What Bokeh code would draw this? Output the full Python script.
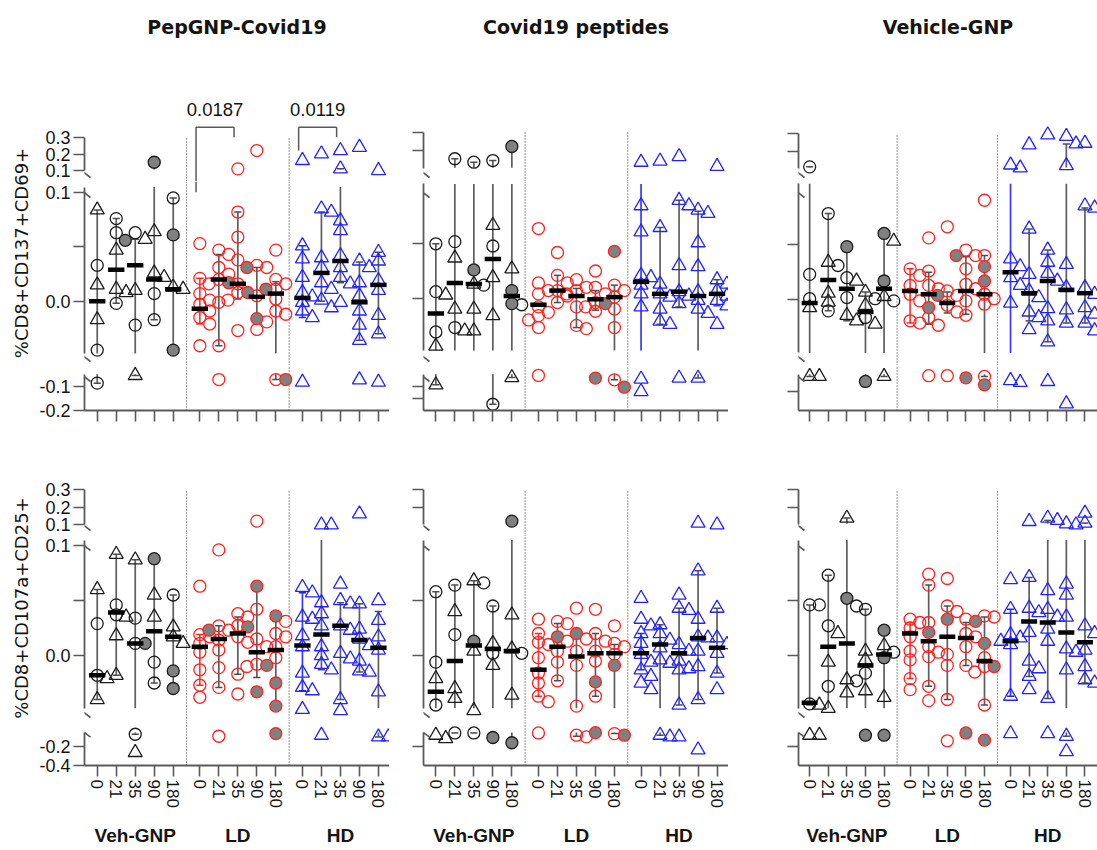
import math
from bokeh.plotting import figure
from bokeh.layouts import row, column
from bokeh.models import (Range1d, LinearAxis, FixedTicker, NumeralTickFormatter,
                          Arrow, Grid)
from bokeh.core.properties import value
from bokeh.embed import file_html
from bokeh.resources import INLINE

# ----------------------------------------------------------------- data ----
GROUPS = ["Veh-GNP", "LD", "HD"]
DAYS = ["0", "21", "35", "90", "180"]
PANEL_TITLES = ["PepGNP-Covid19", "Covid19 peptides", "Vehicle-GNP"]
ROW_YLABELS = ["%CD8+CD137+CD69+", "%CD8+CD107a+CD25+"]
PVAL_TEXT = ["0.0187", "0.0119"]
PVAL_GROUP = [1, 2]          # LD, HD
PVAL_FROM_DAY = [0, 0]       # day index 0
PVAL_TO_DAY = [2, 2]         # day index 35

# --- PepGNP-Covid19, %CD8+CD137+CD69+
PEP137_VEH_CIRC = [[0.033, -0.045, -0.086], [0.076, 0.063, -0.002], [0.063, -0.022], [0.007, -0.017], [0.095]]
PEP137_VEH_TRI = [[0.084, 0.015, -0.017], [0.047, 0.011, 0.008], [0.057, 0.010, -0.054], [0.064, 0.026, 0.022], [0.013, 0.011]]
PEP137_VEH_FILL = [[], [], [0.056], [0.150], [0.061, -0.045]]
PEP137_LD_OPEN = [[0.053, 0.021, 0.007, 0.001, -0.003, -0.009, -0.015, -0.021, -0.041],
                  [0.047, 0.043, 0.031, 0.025, 0.020, 0.016, -0.001, -0.041, -0.071],
                  [0.110, 0.082, 0.059, 0.038, 0.016, 0.008, 0.001, -0.027],
                  [0.221, 0.033, 0.031, 0.005, -0.019, -0.026],
                  [0.047, 0.020, 0.016, 0.011, 0.002, -0.009, -0.012, -0.071]]
PEP137_LD_FILL = [[], [0.017], [0.008], [0.031, -0.016], [0.011, -0.071]]
PEP137_HD_OPEN = [[0.161, 0.051, 0.039, 0.022, 0.008, 0.004, -0.001, -0.009, -0.015, -0.082],
                  [0.201, 0.085, 0.082, 0.040, 0.031, 0.017, 0.011, 0.001, -0.006],
                  [0.221, 0.110, 0.074, 0.065, 0.042, 0.031, 0.022, 0.016, -0.001],
                  [0.241, 0.037, 0.031, 0.017, 0.005, -0.009, -0.022, -0.036, -0.072],
                  [0.100, 0.045, 0.037, 0.019, 0.010, -0.013, -0.030, -0.082]]
PEP137_MEDIAN = [0.0, 0.029, 0.033, 0.020, 0.011, -0.007, 0.020, 0.016, 0.004, 0.007, 0.003, 0.026, 0.037, -0.001, 0.015]
PEP137_LO = [-0.086, -0.002, -0.054, -0.017, -0.045, -0.021, -0.041, 0.002, -0.019, -0.071, -0.015, 0.000, 0.017, -0.036, -0.030]
PEP137_HI = [0.084, 0.076, 0.057, 0.150, 0.095, 0.021, 0.043, 0.082, 0.031, 0.018, 0.051, 0.082, 0.110, 0.036, 0.045]

# --- Covid19 peptides, %CD8+CD137+CD69+
PEPT137_VEH_CIRC = [[0.050, 0.006, -0.031], [0.155, 0.052, -0.027], [0.136, 0.012], [0.145, 0.048, -0.174], [-0.006]]
PEPT137_VEH_TRI = [[0.003, -0.044, -0.093], [0.037, -0.010, -0.030], [0.013, -0.010, -0.030], [0.067, 0.019, -0.016], [0.027, -0.063]]
PEPT137_VEH_FILL = [[], [], [0.026], [], [0.222, 0.007, -0.005]]
PEPT137_LD_OPEN = [[0.064, 0.014, 0.007, 0.004, -0.008, -0.013, -0.016, -0.020, -0.027, -0.054],
                   [0.042, 0.021, 0.014, 0.007, 0.002, -0.004],
                   [0.017, 0.010, 0.007, 0.004, -0.008, -0.025, -0.028],
                   [0.025, 0.010, 0.004, -0.004, -0.008, -0.012],
                   [0.012, 0.007, 0.001, -0.010, -0.027, -0.072]]
PEPT137_LD_FILL = [[], [], [], [-0.005, -0.065], [0.043, -0.103]]
PEPT137_HD_OPEN = [[0.136, 0.085, 0.061, 0.021, 0.019, 0.012, 0.004, -0.008, -0.069, -0.121],
                   [0.142, 0.065, 0.013, 0.004, 0.001, -0.010, -0.021, -0.024],
                   [0.167, 0.090, 0.085, 0.030, 0.006, 0.002, -0.005, -0.065],
                   [0.081, 0.078, 0.051, 0.029, 0.006, -0.002, -0.010, -0.014, -0.065],
                   [0.113, 0.017, 0.013, 0.007, 0.002, -0.002, -0.007, -0.024]]
PEPT137_MEDIAN = [-0.014, 0.014, 0.013, 0.036, 0.002, -0.006, 0.007, 0.002, -0.001, 0.001, 0.015, 0.004, 0.006, 0.002, 0.004]
PEPT137_LO = [-0.093, -0.048, -0.048, -0.174, -0.063, -0.006, -0.004, -0.027, -0.011, -0.072, -0.048, -0.024, -0.008, -0.065, -0.007]
PEPT137_HI = [0.050, 0.155, 0.136, 0.145, 0.222, -0.006, 0.021, 0.009, 0.007, 0.012, 0.105, 0.065, 0.090, 0.080, 0.017]

# --- Vehicle-GNP, %CD8+CD137+CD69+
VEH137_VEH_CIRC = [[0.110, 0.023, 0.001], [0.078, 0.031, -0.010], [0.020, 0.002], [0.001, -0.016], [-0.001]]
VEH137_VEH_TRI = [[-0.007, -0.058, -0.058], [0.034, 0.006, -0.002], [0.017, -0.014, -0.019], [0.007, -0.005, -0.022], [0.053, 0.003, -0.058]]
VEH137_VEH_FILL = [[], [], [0.048], [-0.079], [0.060, 0.017]]
VEH137_LD_OPEN = [[0.028, 0.022, 0.013, 0.005, -0.001, -0.019, -0.021],
                  [0.056, 0.026, 0.013, 0.010, -0.016, -0.023, -0.055],
                  [0.066, 0.008, 0.004, -0.005, -0.011, -0.055],
                  [0.045, 0.040, 0.028, 0.014, 0.010, -0.001, -0.014],
                  [0.090, 0.040, 0.005, 0.001, -0.004, -0.058]]
VEH137_LD_FILL = [[], [-0.007], [0.004], [0.040, -0.064], [0.030, 0.017, -0.093]]
VEH137_HD_OPEN = [[0.121, 0.104, 0.037, 0.030, 0.020, 0.013, -0.003, -0.075, -0.083],
                  [0.237, 0.064, 0.023, 0.008, 0.002, -0.011, -0.016, -0.027],
                  [0.294, 0.045, 0.034, 0.024, 0.017, -0.008, -0.019, -0.038, -0.079],
                  [0.285, 0.242, 0.117, 0.032, 0.011, -0.009, -0.021, -0.172],
                  [0.246, 0.085, 0.083, 0.011, 0.005, -0.007, -0.013, -0.021, -0.028]]
VEH137_MEDIAN = [-0.003, 0.018, 0.010, -0.011, 0.010, 0.008, 0.005, -0.003, 0.008, 0.005, 0.025, 0.006, 0.017, 0.009, 0.006]
VEH137_LO = [-0.058, -0.010, -0.019, -0.079, -0.058, -0.021, -0.022, -0.012, -0.013, -0.058, -0.048, -0.019, -0.038, -0.021, -0.021]
VEH137_HI = [0.110, 0.078, 0.048, 0.007, 0.060, 0.028, 0.025, 0.007, 0.039, 0.040, 0.105, 0.064, 0.045, 0.242, 0.083]

# --- PepGNP-Covid19, %CD8+CD107a+CD25+
PEP107_VEH_CIRC = [[0.029, -0.018], [0.046, 0.037], [0.034, 0.011, -0.069], [-0.006, -0.025], [0.055]]
PEP107_VEH_TRI = [[0.060, -0.021, -0.040], [0.092, 0.035, 0.018, -0.018], [0.087, -0.262], [0.055, 0.035], [0.026, 0.017, 0.011]]
PEP107_VEH_FILL = [[], [], [0.011], [0.088], [-0.014, -0.030]]
PEP107_LD_OPEN = [[0.063, 0.019, 0.017, 0.011, 0.003, -0.013, -0.027, -0.038],
                  [0.096, 0.027, 0.023, 0.014, 0.005, -0.011, -0.029, -0.090],
                  [0.038, 0.035, 0.027, 0.017, 0.012, -0.017, -0.035],
                  [0.121, 0.042, 0.015, 0.008, -0.008, -0.010],
                  [0.031, 0.020, 0.017, 0.008, -0.002]]
PEP107_LD_FILL = [[], [0.023], [0.026], [0.063, -0.009, -0.033], [0.036, -0.025, -0.046, -0.062]]
PEP107_HD_OPEN = [[0.062, 0.057, 0.035, 0.033, 0.018, 0.008, -0.016, -0.029, -0.032, -0.049],
                  [0.100, 0.100, 0.048, 0.038, 0.027, 0.008, 0.000, -0.008, -0.013, -0.079],
                  [0.065, 0.050, 0.047, 0.027, 0.023, 0.002, -0.003, -0.040, -0.050],
                  [0.162, 0.047, 0.024, 0.015, 0.009, -0.005, -0.014, -0.015],
                  [0.050, 0.032, 0.017, 0.005, -0.033, -0.097, -0.097]]
PEP107_MEDIAN = [-0.018, 0.039, 0.011, 0.022, 0.017, 0.008, 0.015, 0.020, 0.003, 0.005, 0.009, 0.019, 0.027, 0.014, 0.007]
PEP107_LO = [-0.040, -0.018, -0.069, -0.025, -0.030, -0.027, -0.029, -0.017, -0.020, -0.062, -0.032, -0.013, -0.040, -0.015, -0.097]
PEP107_HI = [0.060, 0.092, 0.087, 0.088, 0.055, 0.019, 0.027, 0.035, 0.063, 0.031, 0.057, 0.105, 0.048, 0.047, 0.040]

# --- Covid19 peptides, %CD8+CD107a+CD25+
PEPT107_VEH_CIRC = [[0.058, -0.006, -0.045], [0.064, 0.019, -0.055], [0.066, -0.055], [0.045, 0.002], [0.002]]
PEPT107_VEH_TRI = [[-0.021, -0.079, -0.114], [0.040, -0.030, -0.039], [0.068, 0.004, -0.050], [0.011, -0.009], [0.037, 0.006, -0.036]]
PEPT107_VEH_FILL = [[], [], [0.013], [-0.103], [0.121, -0.159]]
PEPT107_LD_OPEN = [[0.033, 0.020, 0.012, 0.010, -0.002, -0.016, -0.025, -0.037, -0.042, -0.055],
                   [0.031, 0.029, 0.013, 0.004, -0.006, -0.023],
                   [0.043, 0.015, 0.004, -0.009, -0.046, -0.079, -0.097],
                   [0.042, 0.020, 0.013, 0.004, -0.005, -0.037],
                   [0.027, 0.011, 0.008, 0.001, -0.062]]
PEPT107_LD_FILL = [[], [0.017], [0.020], [-0.024, -0.052], [-0.009, -0.079]]
PEPT107_HD_OPEN = [[0.052, 0.033, 0.027, 0.020, 0.011, 0.001, -0.006, -0.013, -0.019, -0.025, -0.031],
                   [0.028, 0.020, 0.014, 0.007, -0.004, -0.007, -0.079, -0.097],
                   [0.055, 0.043, 0.041, 0.010, 0.004, -0.005, -0.012, -0.013, -0.045, -0.097],
                   [0.110, 0.077, 0.033, 0.017, 0.016, 0.004, -0.010, -0.040, -0.234],
                   [0.100, 0.043, 0.016, 0.010, 0.002, -0.016, -0.031]]
PEPT107_MEDIAN = [-0.033, -0.005, 0.009, 0.006, 0.004, -0.013, 0.008, -0.001, 0.002, 0.002, 0.002, 0.010, 0.002, 0.016, 0.007]
PEPT107_LO = [-0.048, -0.055, -0.055, -0.048, -0.159, -0.037, -0.023, -0.090, -0.037, -0.062, -0.013, -0.079, -0.045, -0.040, -0.016]
PEPT107_HI = [0.058, 0.064, 0.068, 0.045, 0.105, 0.020, 0.029, 0.020, 0.020, 0.010, 0.020, 0.028, 0.043, 0.077, 0.043]

# --- Vehicle-GNP, %CD8+CD107a+CD25+
VEH107_VEH_CIRC = [[0.046, 0.046, -0.044], [0.073, 0.027, -0.028], [0.045, -0.023], [0.042, -0.016], [0.003]]
VEH107_VEH_TRI = [[-0.045, -0.079, -0.079], [0.020, -0.006, -0.048], [0.138, -0.022, -0.034], [0.004, -0.004, -0.032], [0.009, -0.038]]
VEH107_VEH_FILL = [[], [], [0.052], [-0.079], [0.023, -0.002, -0.079]]
VEH107_LD_OPEN = [[0.033, 0.030, 0.025, 0.017, 0.004, -0.004, -0.021, -0.031],
                  [0.074, 0.064, 0.030, 0.008, 0.003, -0.001, -0.028, -0.041],
                  [0.070, 0.045, 0.040, 0.001, -0.009, -0.040, -0.138],
                  [0.033, 0.020, 0.017, 0.008, -0.009],
                  [0.036, 0.035, -0.002, -0.010, -0.015, -0.045]]
VEH107_LD_FILL = [[], [0.021], [0.033], [0.031, -0.055], [0.011, -0.010, -0.131]]
VEH107_HD_OPEN = [[0.069, 0.042, 0.019, 0.016, 0.013, 0.010, -0.037, -0.062],
                  [0.119, 0.071, 0.043, 0.039, 0.021, -0.005, -0.012, -0.019, -0.031],
                  [0.138, 0.125, 0.059, 0.042, 0.035, 0.024, 0.013, -0.039, -0.062],
                  [0.106, 0.100, 0.065, 0.055, 0.035, 0.006, 0.003, -0.013, -0.090, -0.252],
                  [0.166, 0.110, 0.027, 0.020, 0.005, -0.010, -0.022, -0.025]]
VEH107_MEDIAN = [-0.043, 0.008, 0.011, -0.009, 0.001, 0.020, 0.013, 0.017, 0.016, -0.005, 0.013, 0.031, 0.030, 0.021, 0.012]
VEH107_LO = [-0.045, -0.048, -0.048, -0.079, -0.079, -0.021, -0.028, -0.040, -0.009, -0.045, -0.037, -0.019, -0.039, -0.090, -0.025]
VEH107_HI = [0.046, 0.073, 0.138, 0.042, 0.023, 0.030, 0.064, 0.045, 0.030, 0.035, 0.042, 0.071, 0.125, 0.105, 0.110]

PANEL_DATA = {
    (0, 0): (PEP137_VEH_CIRC, PEP137_VEH_TRI, PEP137_VEH_FILL, PEP137_LD_OPEN, PEP137_LD_FILL, PEP137_HD_OPEN, PEP137_MEDIAN, PEP137_LO, PEP137_HI),
    (0, 1): (PEPT137_VEH_CIRC, PEPT137_VEH_TRI, PEPT137_VEH_FILL, PEPT137_LD_OPEN, PEPT137_LD_FILL, PEPT137_HD_OPEN, PEPT137_MEDIAN, PEPT137_LO, PEPT137_HI),
    (0, 2): (VEH137_VEH_CIRC, VEH137_VEH_TRI, VEH137_VEH_FILL, VEH137_LD_OPEN, VEH137_LD_FILL, VEH137_HD_OPEN, VEH137_MEDIAN, VEH137_LO, VEH137_HI),
    (1, 0): (PEP107_VEH_CIRC, PEP107_VEH_TRI, PEP107_VEH_FILL, PEP107_LD_OPEN, PEP107_LD_FILL, PEP107_HD_OPEN, PEP107_MEDIAN, PEP107_LO, PEP107_HI),
    (1, 1): (PEPT107_VEH_CIRC, PEPT107_VEH_TRI, PEPT107_VEH_FILL, PEPT107_LD_OPEN, PEPT107_LD_FILL, PEPT107_HD_OPEN, PEPT107_MEDIAN, PEPT107_LO, PEPT107_HI),
    (1, 2): (VEH107_VEH_CIRC, VEH107_VEH_TRI, VEH107_VEH_FILL, VEH107_LD_OPEN, VEH107_LD_FILL, VEH107_HD_OPEN, VEH107_MEDIAN, VEH107_LO, VEH107_HI),
}

# --------------------------------------------------------------- styles ----
VEH_COLOR = "#1c1c1c"
LD_COLOR = "#ff2222"
HD_COLOR = "#2222ff"
FILL_GRAY = "#808080"
ERR_COLOR = "#4d4d4d"
AXIS_COLOR = "#5a5a5a"
TEXT_COLOR = "#141414"
SEP_COLOR = "#555555"

STYLES = {
    "veh_o": dict(marker="circle", line_color=VEH_COLOR, fill_color=None, size=12),
    "veh_t": dict(marker="triangle", line_color=VEH_COLOR, fill_color=None, size=14),
    "veh_f": dict(marker="circle", line_color=VEH_COLOR, fill_color=FILL_GRAY, size=12),
    "ld_o": dict(marker="circle", line_color=LD_COLOR, fill_color=None, size=12),
    "ld_f": dict(marker="circle", line_color=LD_COLOR, fill_color=FILL_GRAY, size=12),
    "hd_t": dict(marker="triangle", line_color=HD_COLOR, fill_color=None, size=14),
}

# --------------------------------------------------------------- layout ----
CAT_STEP = 10
GROUP_STEP = 54
DODGE = 2.6
CAP_HALF = 1.9
MED_HALF = 4.3

LABEL_W = 34
PANEL_LEFT = [50, 34, 70]
PANEL_FRAME_W = [305, 305, 299]
PANEL_X_START = [-6.7, -6.5, -6.0]
PANEL_PX_PER_X = [1.9, 1.9, 1.86]
# (row top, split top/mid, split mid/bottom, x-axis, bottom of tick-label area, row bottom)
ROW_GEOM = [(0, 181, 365, 410, 440, 440), (440, 534, 721, 766, 810, 850)]
YLABEL_CENTER = [252.5, 607.5]
YLABEL_MID_X = 20.5
TITLE_BASE_Y = 26.7
GROUP_LABEL_MID_Y = 834.5
BRACKET_TOP_Y = 126.7
BRACKET_TEXT_Y = 109.3
BRACKET_LEFT_END_Y = [191.7, 150.0]
BRACKET_RIGHT_END_Y = [136.7, 136.7]
BRACKET_SHIFT = -2.0

ROW2_ANCH = {"top": (489, 0.3, 524.3, 0.1), "mid": (545, 0.1, 655, 0.0), "bot": (746.7, -0.2, 766, -0.4)}
ANCHORS = {
    (0, 0): {"top": (137, 0.3, 170, 0.1), "mid": (192, 0.1, 300.7, 0.0), "bot": (386, -0.1, 410, -0.2)},
    (0, 1): {"top": (131.7, 0.3, 150, 0.2), "mid": (243.3, 0.05, 297.7, 0.0), "bot": (386, -0.1, 410, -0.2)},
    (0, 2): {"top": (133.3, 0.3, 150.7, 0.2), "mid": (244, 0.05, 299.3, 0.0), "bot": (386, -0.1, 410, -0.2)},
    (1, 0): ROW2_ANCH, (1, 1): ROW2_ANCH, (1, 2): ROW2_ANCH,
}
Y_TICKS = {
    (0, 0): {"top": ([0.1, 0.2, 0.3], []), "mid": ([0.0, 0.1], [0.05]), "bot": ([-0.1, -0.2], [])},
    (0, 1): {"top": ([0.2, 0.3], []), "mid": ([0.0, 0.05], []), "bot": ([-0.1, -0.15], [])},
    (0, 2): {"top": ([0.2, 0.3], []), "mid": ([0.0, 0.05], []), "bot": ([-0.12], [])},
    (1, 0): {"top": ([0.1, 0.2, 0.3], []), "mid": ([0.0, 0.1], [0.05]), "bot": ([-0.2, -0.4], [])},
    (1, 1): {"top": ([0.2, 0.3], []), "mid": ([0.0, 0.05], []), "bot": ([-0.2], [])},
    (1, 2): {"top": ([0.2, 0.3], []), "mid": ([0.0, 0.05], []), "bot": ([-0.2], [])},
}
SEG_CLIP = {"top": (0.106, 9.0), "mid": (-0.048, 0.105), "bot": (-9.0, -0.049)}
SEGS = ("top", "mid", "bot")


def val_at(a, y):
    y1, v1, y2, v2 = a
    return v1 + (y - y1) * (v2 - v1) / (y2 - y1)


def px_per_val(a):
    y1, v1, y2, v2 = a
    return abs((y2 - y1) / (v2 - v1))


def seg_of(v):
    if v >= 0.0995:
        return "top"
    if v < -0.051:
        return "bot"
    return "mid"


def xpos(g, i):
    return g * GROUP_STEP + i * CAT_STEP


def dodge(pts, scale, pxx):
    out, placed = [], []
    for v, st in sorted(pts, key=lambda t: -t[0]):
        yp = v * scale
        chosen = 0
        for k in (0, 1, -1, 2, -2, 3, -3):
            dxp = k * DODGE * pxx
            if all(abs(dxp - qx) >= 8 or abs(yp - qy) >= 8 for qx, qy in placed):
                chosen = k
                break
        placed.append((chosen * DODGE * pxx, yp))
        out.append((chosen * DODGE, v, st))
    return out


def base_fig(w, h, xr, yr, left, bottom):
    p = figure(width=w, height=h, x_range=xr, y_range=yr, output_backend="svg",
               toolbar_location=None, x_axis_location=None, y_axis_location=None,
               title_location=None, min_border_left=left, min_border_right=0,
               min_border_top=0, min_border_bottom=bottom, outline_line_color=None,
               background_fill_color="white", border_fill_color="white")
    p.center = [m for m in p.center if not isinstance(m, Grid)]
    return p


def hline(p, x0, x1, y0, y1, width=1.8, color=AXIS_COLOR):
    p.add_layout(Arrow(end=None, x_start=x0, y_start=y0, x_end=x1, y_end=y1,
                       line_color=color, line_width=width))


rows_out = []
for r in range(2):
    row_top, s1, s2, axis_y, tick_bot, row_bot = ROW_GEOM[r]
    seg_frames = {"top": (row_top, s1), "mid": (s1, s2), "bot": (s2, axis_y)}

    # y-axis title, in its own narrow figure spanning the whole row (page y -> -y)
    lf = base_fig(LABEL_W, row_bot - row_top, Range1d(0, LABEL_W), Range1d(-row_bot, -row_top), 0, 0)
    lf.text(x=[YLABEL_MID_X], y=[-YLABEL_CENTER[r]], text=[ROW_YLABELS[r]], angle=math.pi / 2,
            text_align="center", text_baseline="middle", text_font=value("DejaVu Sans"),
            text_font_size="18px", text_color=TEXT_COLOR)
    row_children = [lf]

    for c in range(3):
        vc, vt, vf, ldo, ldf, hdo, med, lo, hi = PANEL_DATA[(r, c)]
        anch = ANCHORS[(r, c)]
        pxx = PANEL_PX_PER_X[c]
        labeled = (c == 0)
        fig_w = PANEL_LEFT[c] + PANEL_FRAME_W[c]
        xr = Range1d(PANEL_X_START[c], PANEL_X_START[c] + PANEL_FRAME_W[c] / pxx)
        figs = {}
        for seg in SEGS:
            ft, fb = seg_frames[seg]
            a = anch[seg]
            yr = Range1d(val_at(a, fb), val_at(a, ft))
            bb = (tick_bot - axis_y) if seg == "bot" else 0
            p = base_fig(fig_w, int(fb - ft + bb), xr, yr, PANEL_LEFT[c], bb)
            ticks, minors = Y_TICKS[(r, c)][seg]
            if seg == "top":
                bounds = (0.1, 0.3)
            elif seg == "mid":
                bounds = (-0.048, 0.105)
            else:
                bounds = (-0.2 if r == 0 else -0.4, -0.049)
            ax = LinearAxis(ticker=FixedTicker(ticks=ticks, minor_ticks=minors), bounds=bounds,
                            formatter=NumeralTickFormatter(format="0.0"),
                            axis_line_color=AXIS_COLOR, axis_line_width=1.8,
                            major_tick_line_color=AXIS_COLOR, major_tick_line_width=1.6,
                            minor_tick_line_color=AXIS_COLOR, minor_tick_line_width=1.6,
                            major_tick_in=0, major_tick_out=11, minor_tick_in=0, minor_tick_out=11,
                            major_label_standoff=3, major_label_text_font="Liberation Sans",
                            major_label_text_font_size="18px", major_label_text_color=TEXT_COLOR)
            if not labeled:
                ax.major_label_overrides = {t: "" for t in ticks}
            p.add_layout(ax, "left")
            figs[seg] = p

        # x axis on bottom segment
        pb = figs["bot"]
        xt = [xpos(g, i) for g in range(3) for i in range(5)]
        if r == 1:
            over = {xpos(g, i): DAYS[i] for g in range(3) for i in range(5)}
        else:
            over = {t: "" for t in xt}
        xa = LinearAxis(ticker=FixedTicker(ticks=xt), major_label_overrides=over,
                        major_label_orientation="vertical",
                        axis_line_color=AXIS_COLOR, axis_line_width=1.8,
                        major_tick_line_color=AXIS_COLOR, major_tick_line_width=1.6,
                        major_tick_in=0, major_tick_out=11, minor_tick_out=0, minor_tick_in=0,
                        major_label_standoff=3, major_label_text_font="Liberation Sans",
                        major_label_text_font_size="17px", major_label_text_color=TEXT_COLOR)
        pb.add_layout(xa, "below")
        ybot = pb.y_range.start
        hline(pb, xr.start - 11 / pxx, xr.start, ybot, ybot)

        # dotted group separators
        seps = [(xpos(0, 4) + xpos(1, 0)) / 2, (xpos(1, 4) + xpos(2, 0)) / 2]
        for seg in SEGS:
            p = figs[seg]
            y_hi = 0.3 if seg == "top" else p.y_range.end
            p.segment(x0=seps, x1=seps, y0=[p.y_range.start] * 2, y1=[y_hi] * 2,
                      line_color=SEP_COLOR, line_width=1.2, line_dash="1 2")

        # break slashes
        x_s0 = xr.start - 8 / pxx
        x_s1 = xr.start + 6 / pxx
        for seg, ys in (("top", [s1 - 15]), ("mid", [s1 + 5, s2 - 15]), ("bot", [s2 + 5])):
            for y0 in ys:
                a = anch[seg]
                hline(figs[seg], x_s0, x_s1, val_at(a, y0), val_at(a, y0 + 11), width=1.6)

        # points, error bars, medians
        pts_by = {seg: {st: ([], []) for st in STYLES} for seg in SEGS}
        err_by = {seg: dict(x=[], y0=[], y1=[], c=[]) for seg in SEGS}
        cap_by = {seg: dict(x0=[], x1=[], y=[], c=[]) for seg in SEGS}
        med_x0, med_x1, med_y = [], [], []
        for g in range(3):
            for i in range(5):
                k = g * 5 + i
                x0 = xpos(g, i)
                if g == 0:
                    pts = [(v, "veh_o") for v in vc[i]] + [(v, "veh_t") for v in vt[i]] + [(v, "veh_f") for v in vf[i]]
                elif g == 1:
                    pts = [(v, "ld_o") for v in ldo[i]] + [(v, "ld_f") for v in ldf[i]]
                else:
                    pts = [(v, "hd_t") for v in hdo[i]]
                if g == 1 and i == 0:
                    ec = LD_COLOR
                elif g == 2 and i == 0:
                    ec = HD_COLOR
                else:
                    ec = ERR_COLOR
                for seg in SEGS:
                    sp = [pt for pt in pts if seg_of(pt[0]) == seg]
                    for dx, v, st in dodge(sp, px_per_val(anch[seg]), pxx):
                        pts_by[seg][st][0].append(x0 + dx)
                        pts_by[seg][st][1].append(v)
                    ca, cb = SEG_CLIP[seg]
                    y_lo = max(lo[k], ca)
                    y_hi = min(hi[k], cb)
                    if y_lo < y_hi:
                        e = err_by[seg]
                        e["x"].append(x0); e["y0"].append(y_lo); e["y1"].append(y_hi); e["c"].append(ec)
                    for end in (lo[k], hi[k]):
                        if ca < end < cb and lo[k] < hi[k]:
                            cp = cap_by[seg]
                            cp["x0"].append(x0 - CAP_HALF); cp["x1"].append(x0 + CAP_HALF)
                            cp["y"].append(end); cp["c"].append(ec)
                med_x0.append(x0 - MED_HALF)
                med_x1.append(x0 + MED_HALF)
                med_y.append(med[k])

        for seg in SEGS:
            p = figs[seg]
            e = err_by[seg]
            if e["x"]:
                p.segment(x0=e["x"], x1=e["x"], y0=e["y0"], y1=e["y1"], line_color=e["c"],
                          line_width=1.7, line_alpha=0.9)
            cp = cap_by[seg]
            if cp["y"]:
                p.segment(x0=cp["x0"], x1=cp["x1"], y0=cp["y"], y1=cp["y"], line_color=cp["c"],
                          line_width=1.5)
            for st, (xs, ys) in pts_by[seg].items():
                if xs:
                    p.scatter(x=xs, y=ys, line_width=1.3, **STYLES[st])
        figs["mid"].segment(x0=med_x0, x1=med_x1, y0=med_y, y1=med_y, line_color="black",
                            line_width=4.5)

        # panel title (row 1)
        pt = figs["top"]
        if r == 0:
            pt.text(x=[(xr.start + xr.end) / 2], y=[val_at(anch["top"], TITLE_BASE_Y)],
                    text=[PANEL_TITLES[c]], text_align="center", text_baseline="alphabetic",
                    text_font=value("DejaVu Sans"), text_font_style="bold",
                    text_font_size="19px", text_color=TEXT_COLOR)

        # significance brackets (PepGNP-Covid19, first row)
        if r == 0 and c == 0:
            for b in range(len(PVAL_TEXT)):
                gx = PVAL_GROUP[b]
                xl = xpos(gx, PVAL_FROM_DAY[b]) + BRACKET_SHIFT
                xrr = xpos(gx, PVAL_TO_DAY[b]) + BRACKET_SHIFT
                legs = [(xl, xl, BRACKET_TOP_Y, BRACKET_LEFT_END_Y[b]),
                        (xrr, xrr, BRACKET_TOP_Y, BRACKET_RIGHT_END_Y[b]),
                        (xl, xrr, BRACKET_TOP_Y, BRACKET_TOP_Y)]
                for (ax0, ax1, ya, yb) in legs:
                    for seg in SEGS:
                        ft, fb = seg_frames[seg]
                        top_y, bot_y = max(min(ya, yb), ft), min(max(ya, yb), fb)
                        if top_y < bot_y or (ya == yb and ft <= ya <= fb):
                            a = anch[seg]
                            figs[seg].segment(x0=[ax0], x1=[ax1], y0=[val_at(a, top_y)],
                                              y1=[val_at(a, bot_y)], line_color=AXIS_COLOR,
                                              line_width=1.5)
                pt.text(x=[(xl + xrr) / 2], y=[val_at(anch["top"], BRACKET_TEXT_Y)],
                        text=[PVAL_TEXT[b]], text_align="center", text_baseline="alphabetic",
                        text_font=value("Liberation Sans"), text_font_size="18.5px",
                        text_color=TEXT_COLOR)

        children = [figs["top"], figs["mid"], figs["bot"]]
        # group labels below the day ticks (row 2)
        if row_bot > tick_bot:
            gf = base_fig(fig_w, row_bot - tick_bot, xr, Range1d(-row_bot, -tick_bot), PANEL_LEFT[c], 0)
            gf.text(x=[xpos(g, 2) for g in range(3)], y=[-GROUP_LABEL_MID_Y] * 3, text=GROUPS,
                    text_align="center", text_baseline="middle",
                    text_font=value("Liberation Sans"), text_font_style="bold",
                    text_font_size="19px", text_color=TEXT_COLOR)
            children.append(gf)
        row_children.append(column(*children, spacing=0))
    rows_out.append(row(*row_children, spacing=0))

layout = column(*rows_out, spacing=0)
open("out.html", "w").write(file_html(layout, INLINE))
